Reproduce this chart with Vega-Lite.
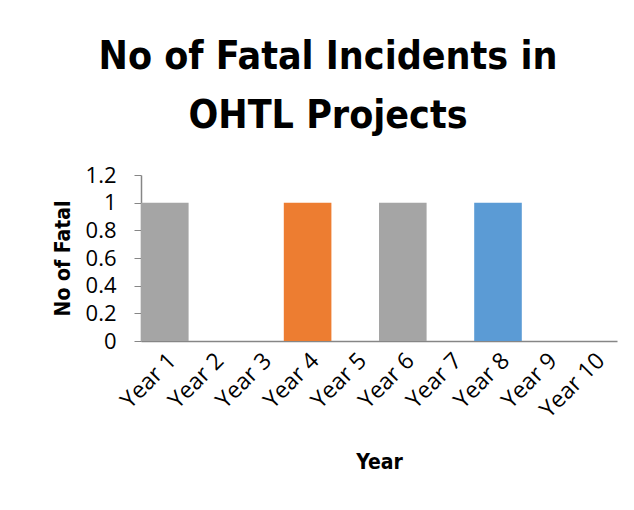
{
  "$schema": "https://vega.github.io/schema/vega-lite/v6.json",
  "width": 476,
  "height": 166,
  "autosize": {"type": "none"},
  "padding": {"left": 141, "top": 175, "right": 17, "bottom": 169},
  "background": "white",
  "title": {
    "text": ["No of Fatal Incidents in", "OHTL Projects"],
    "font": "DejaVu Sans Condensed, Liberation Sans Narrow, sans-serif",
    "fontSize": 39,
    "fontWeight": "bold",
    "color": "#000000",
    "lineHeight": 59,
    "anchor": "middle",
    "dx": -51,
    "offset": 28
  },
  "data": {
    "values": [
      {"year": "Year 1", "fatal": 1},
      {"year": "Year 2", "fatal": 0},
      {"year": "Year 3", "fatal": 0},
      {"year": "Year 4", "fatal": 1},
      {"year": "Year 5", "fatal": 0},
      {"year": "Year 6", "fatal": 1},
      {"year": "Year 7", "fatal": 0},
      {"year": "Year 8", "fatal": 1},
      {"year": "Year 9", "fatal": 0},
      {"year": "Year 10", "fatal": 0}
    ]
  },
  "mark": {"type": "bar"},
  "encoding": {
    "x": {
      "field": "year",
      "type": "nominal",
      "sort": null,
      "scale": {"paddingInner": 0, "paddingOuter": 0},
      "axis": {
        "title": "Year",
        "titleFont": "DejaVu Sans Condensed, Liberation Sans Narrow, sans-serif",
        "titleFontSize": 21,
        "titleFontWeight": "bold",
        "titleColor": "#000000",
        "titlePadding": 30,
        "labelAngle": -45,
        "labelFont": "Open Sans, Noto Sans, sans-serif",
        "labelFontSize": 23,
        "labelColor": "#000000",
        "labelPadding": 8,
        "ticks": false,
        "domainColor": "#868686",
        "domainWidth": 1.5,
        "grid": false
      }
    },
    "y": {
      "field": "fatal",
      "type": "quantitative",
      "scale": {"domain": [0, 1.2], "nice": false},
      "axis": {
        "title": "No of Fatal",
        "titleFont": "DejaVu Sans Condensed, Liberation Sans Narrow, sans-serif",
        "titleFontSize": 21,
        "titleFontWeight": "bold",
        "titleColor": "#000000",
        "titlePadding": 12,
        "values": [0, 0.2, 0.4, 0.6, 0.8, 1, 1.2],
        "format": "~g",
        "labelFont": "Open Sans, Noto Sans, sans-serif",
        "labelFontSize": 22,
        "labelColor": "#000000",
        "labelPadding": 18,
        "tickSize": 7,
        "tickColor": "#868686",
        "domainColor": "#868686",
        "domainWidth": 1.5,
        "grid": false
      }
    },
    "color": {
      "field": "year",
      "type": "nominal",
      "legend": null,
      "scale": {
        "domain": ["Year 1", "Year 2", "Year 3", "Year 4", "Year 5", "Year 6", "Year 7", "Year 8", "Year 9", "Year 10"],
        "range": ["#A5A5A5", "#A5A5A5", "#A5A5A5", "#ED7D31", "#A5A5A5", "#A5A5A5", "#A5A5A5", "#5B9BD5", "#A5A5A5", "#A5A5A5"]
      }
    }
  },
  "config": {"view": {"stroke": null}}
}
